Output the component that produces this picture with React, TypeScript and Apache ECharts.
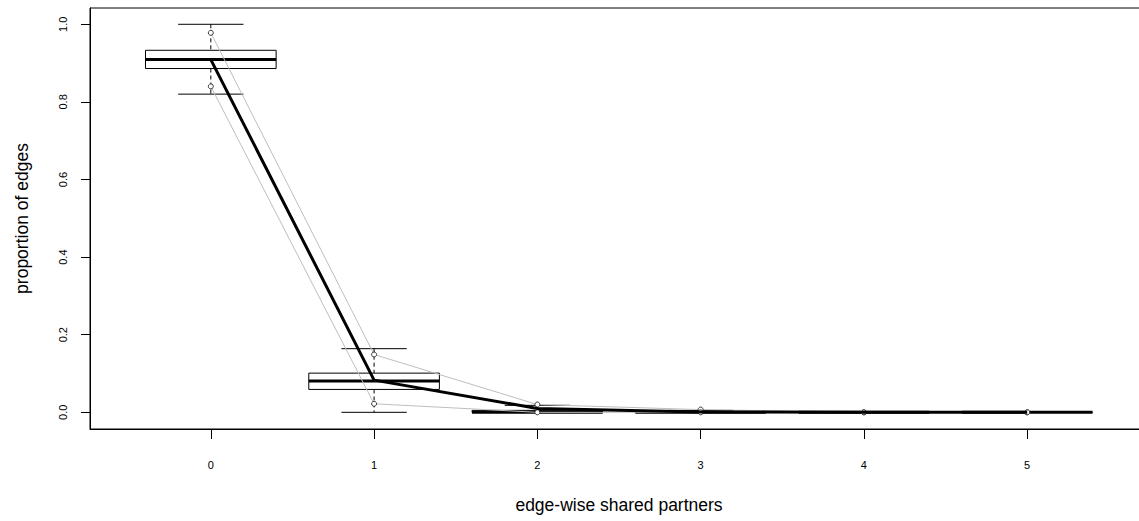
import React, { useEffect, useRef } from "react";
import * as echarts from "echarts";

// categories (edge-wise shared partners)
const categories = [0, 1, 2, 3, 4, 5];
// simulated distribution box statistics
const whiskerLow = [0.82, 0.0, 0.0, 0.0, 0.0, 0.0];
const quart1 = [0.886, 0.059, 0.0, 0.0, 0.0, 0.0];
const medians = [0.909, 0.081, 0.0, 0.0, 0.0, 0.0];
const quart3 = [0.933, 0.101, 0.005, 0.0, 0.0, 0.0];
const whiskerHigh = [1.0, 0.164, 0.018, 0.005, 0.0, 0.0];
// gray percentile lines
const upperBand = [0.978, 0.149, 0.02, 0.007, 0.0, 0.0];
const lowerBand = [0.84, 0.022, 0.0, 0.0, 0.0, 0.0];
// observed network
const observed = [0.909, 0.083, 0.01, 0.001, 0.0, 0.0];
// tick labels
const yTicks = [0, 0.2, 0.4, 0.6, 0.8, 1.0];
const xTicks = [0, 1, 2, 3, 4, 5];

const CHART_W = 1170;

export default function App() {
  const ref = useRef<HTMLDivElement>(null);
  useEffect(() => {
    if (!ref.current) return;
    const chart = echarts.init(ref.current, null, { renderer: "svg" });
    const font = "'Liberation Sans', Arial, sans-serif";
    const boxData = categories.map((c, i) => [
      c,
      whiskerLow[i],
      quart1[i],
      medians[i],
      quart3[i],
      whiskerHigh[i],
    ]);
    chart.setOption({
      animation: false,
      backgroundColor: "#ffffff",
      grid: {
        left: 90,
        top: 8,
        right: CHART_W - 1148,
        bottom: 92,
        show: true,
        borderColor: "#000",
        borderWidth: 1,
        backgroundColor: "transparent",
      },
      xAxis: {
        type: "value",
        min: -0.74,
        max: 5.74,
        name: "edge-wise shared partners",
        nameLocation: "middle",
        nameGap: 67,
        nameTextStyle: { fontFamily: font, fontSize: 17.5, color: "#000" },
        axisLine: { show: true, onZero: false, lineStyle: { color: "#000", width: 1 } },
        axisTick: {
          show: true,
          length: 10,
          customValues: xTicks,
          lineStyle: { color: "#000" },
        },
        axisLabel: {
          customValues: xTicks,
          margin: 30,
          fontFamily: font,
          fontSize: 11,
          color: "#000",
          formatter: (v: number) => String(v),
        },
        splitLine: { show: false },
      },
      yAxis: {
        type: "value",
        min: -0.043,
        max: 1.042,
        name: "proportion of edges",
        nameLocation: "middle",
        nameRotate: 90,
        nameGap: 59,
        nameTextStyle: { fontFamily: font, fontSize: 17.5, color: "#000" },
        axisLine: { show: true, onZero: false, lineStyle: { color: "#000", width: 1 } },
        axisTick: {
          show: true,
          length: 9,
          customValues: yTicks,
          lineStyle: { color: "#000" },
        },
        axisLabel: {
          customValues: yTicks,
          rotate: 90,
          margin: 22,
          fontFamily: font,
          fontSize: 11,
          color: "#000",
          formatter: (v: number) => v.toFixed(1),
        },
        splitLine: { show: false },
      },
      series: [
        {
          type: "custom",
          z: 1,
          data: boxData,
          encode: { x: 0, y: [1, 2, 3, 4, 5] },
          renderItem: (params: any, api: any) => {
            const x = api.value(0);
            const lo = api.value(1);
            const q1 = api.value(2);
            const md = api.value(3);
            const q3 = api.value(4);
            const hi = api.value(5);
            const tl = api.coord([x - 0.4, q3]);
            const br = api.coord([x + 0.4, q1]);
            const mL = api.coord([x - 0.4, md]);
            const mR = api.coord([x + 0.4, md]);
            const cT = api.coord([x, hi]);
            const cQ3 = api.coord([x, q3]);
            const cQ1 = api.coord([x, q1]);
            const cB = api.coord([x, lo]);
            const capHL = api.coord([x - 0.2, hi]);
            const capHR = api.coord([x + 0.2, hi]);
            const capLL = api.coord([x - 0.2, lo]);
            const capLR = api.coord([x + 0.2, lo]);
            const thin = { stroke: "#000", lineWidth: 1, fill: "none" };
            return {
              type: "group",
              children: [
                {
                  type: "line",
                  shape: { x1: cT[0], y1: cT[1], x2: cQ3[0], y2: cQ3[1] },
                  style: { ...thin, lineDash: [4, 3] },
                },
                {
                  type: "line",
                  shape: { x1: cQ1[0], y1: cQ1[1], x2: cB[0], y2: cB[1] },
                  style: { ...thin, lineDash: [4, 3] },
                },
                {
                  type: "line",
                  shape: { x1: capHL[0], y1: capHL[1], x2: capHR[0], y2: capHR[1] },
                  style: thin,
                },
                {
                  type: "line",
                  shape: { x1: capLL[0], y1: capLL[1], x2: capLR[0], y2: capLR[1] },
                  style: thin,
                },
                {
                  type: "rect",
                  shape: {
                    x: tl[0],
                    y: tl[1],
                    width: br[0] - tl[0],
                    height: br[1] - tl[1],
                  },
                  style: thin,
                },
                {
                  type: "line",
                  shape: { x1: mL[0], y1: mL[1], x2: mR[0], y2: mR[1] },
                  style: { stroke: "#000", lineWidth: 3 },
                },
              ],
            };
          },
        },
        {
          type: "line",
          z: 2,
          data: categories.map((c, i) => [c, upperBand[i]]),
          symbol: "circle",
          symbolSize: 5,
          showSymbol: true,
          lineStyle: { color: "#bebebe", width: 1 },
          itemStyle: { color: "#fff", borderColor: "#333", borderWidth: 1 },
        },
        {
          type: "line",
          z: 2,
          data: categories.map((c, i) => [c, lowerBand[i]]),
          symbol: "circle",
          symbolSize: 5,
          showSymbol: true,
          lineStyle: { color: "#bebebe", width: 1 },
          itemStyle: { color: "#fff", borderColor: "#333", borderWidth: 1 },
        },
        {
          type: "line",
          z: 3,
          data: categories.map((c, i) => [c, observed[i]]),
          symbol: "none",
          lineStyle: { color: "#000", width: 3 },
        },
      ],
    });
    return () => chart.dispose();
  }, []);
  return (
    <div
      style={{
        position: "absolute",
        left: 0,
        top: 0,
        width: 1139,
        height: 521,
        overflow: "hidden",
        background: "#fff",
      }}
    >
      <div ref={ref} style={{ width: CHART_W, height: 521 }} />
    </div>
  );
}
